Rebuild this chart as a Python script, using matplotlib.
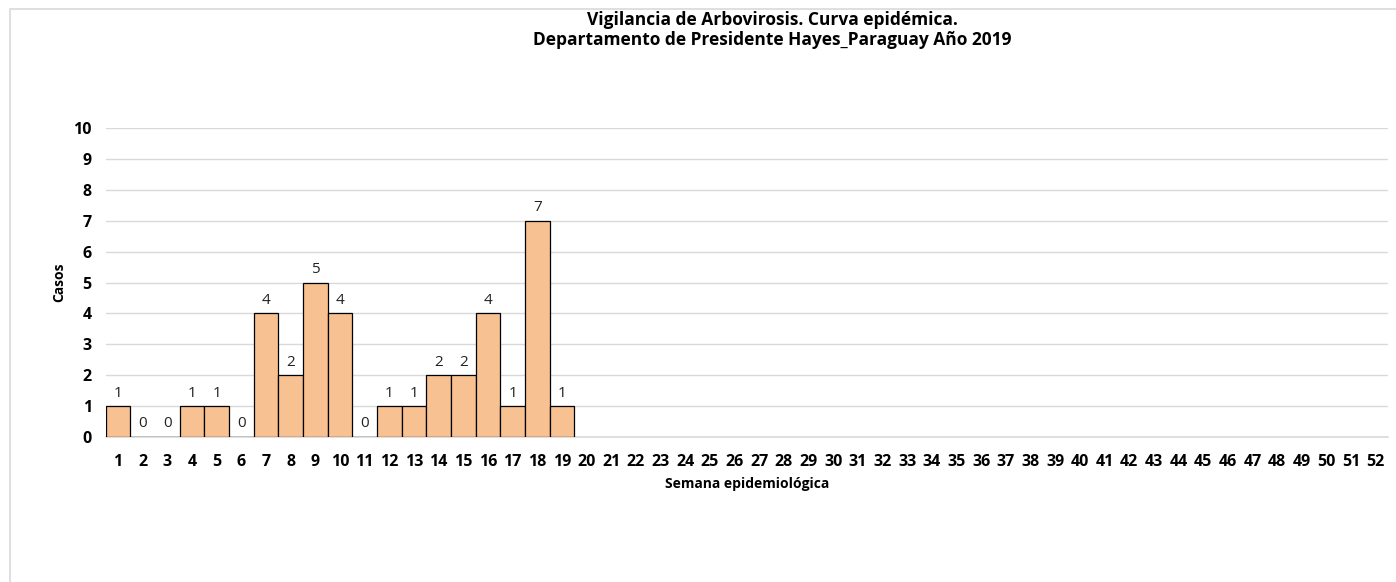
import matplotlib
matplotlib.use("Agg")
import matplotlib.pyplot as plt
from matplotlib.patches import Rectangle

plt.rcParams["font.family"] = ["Open Sans", "DejaVu Sans"]

weeks = list(range(1, 53))
cases = [1, 0, 0, 1, 1, 0, 4, 2, 5, 4, 0, 1, 1, 2, 2, 4, 1, 7, 1]
yticks = list(range(0, 11))

TITLE = "Vigilancia de Arbovirosis. Curva epidémica.\nDepartamento de Presidente Hayes_Paraguay Año 2019"
BAR_COLOR = "#F8C192"
GRID_COLOR = "#D9D9D9"

fig = plt.figure(figsize=(13.96, 5.82), dpi=100)
ax = fig.add_axes([0.0757, 0.2491, 0.9186, 0.531])

# chart frame (cropped at right and bottom)
fig.patches.append(Rectangle((10 / 1396, -0.1), 1.2, 1 - 9 / 582 + 0.1,
                             transform=fig.transFigure, fill=False,
                             edgecolor=GRID_COLOR, linewidth=1.2))

x = weeks[:len(cases)]
bars = ax.bar(x, cases, width=1.0, color=BAR_COLOR, edgecolor="black",
              linewidth=0.9, zorder=3)

for xi, v in zip(x, cases):
    ax.annotate(str(v), (xi, v), xytext=(0, 4),
                textcoords="offset points", ha="center", va="bottom",
                fontsize=11, color="#222222")

ax.set_xlim(0.5, 52.5)
ax.set_ylim(0, 10)
ax.set_xticks(weeks)
ax.set_xticklabels([str(w) for w in weeks], fontweight="bold", fontsize=11.5)
ax.set_yticks(yticks)
ax.set_yticklabels([str(t) for t in yticks], fontweight="bold", fontsize=11.5)
ax.tick_params(axis="x", length=0, pad=12)
ax.tick_params(axis="y", length=0, pad=10)

ax.grid(axis="y", color=GRID_COLOR, linewidth=1, zorder=0)
for s in ["top", "right", "left"]:
    ax.spines[s].set_visible(False)
ax.spines["bottom"].set_color(GRID_COLOR)
ax.spines["bottom"].set_linewidth(1.2)

ax.set_xlabel("Semana epidemiológica", fontweight="bold", fontsize=10, labelpad=5)
ax.set_ylabel("Casos", fontweight="bold", fontsize=10, labelpad=5)

fig.text(772 / 1396, 0.981, TITLE, ha="center", va="top", fontsize=12.5,
         fontweight="bold", linespacing=1.15)

fig.savefig("out.png", dpi=100)
